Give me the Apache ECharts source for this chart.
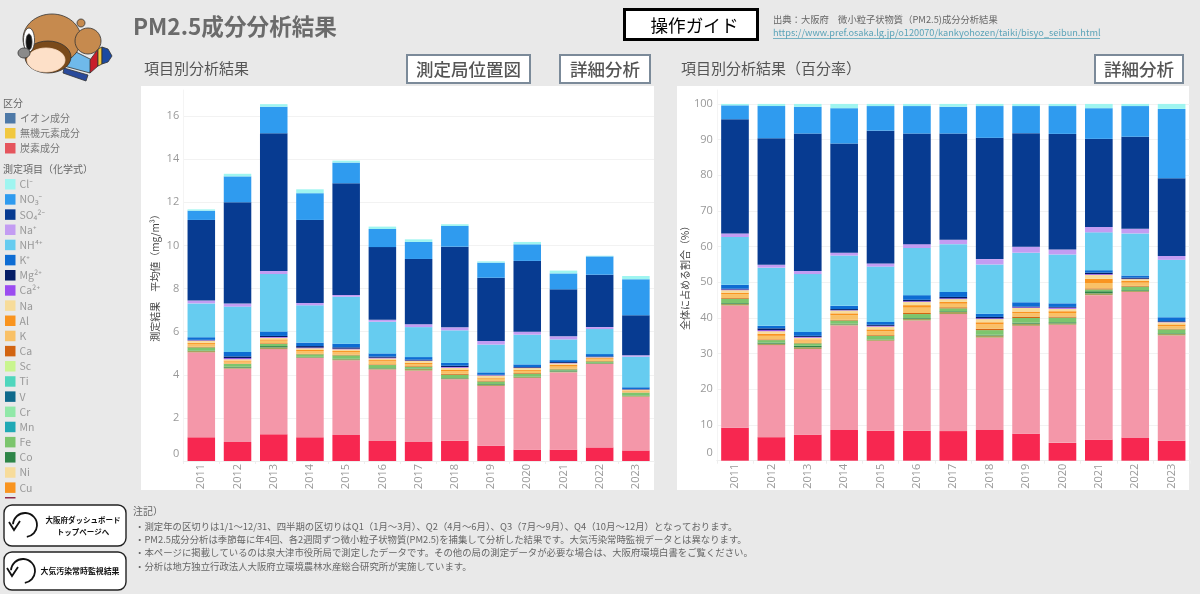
<!DOCTYPE html>
<html lang="ja"><head><meta charset="utf-8">
<style>html,body{margin:0;padding:0;background:#e9e9e9}#c{width:1200px;height:594px}</style>
<script src="https://cdn.jsdelivr.net/npm/echarts@6/dist/echarts.min.js"></script>
</head><body><div id="c"></div>
<script>
const years = ['2011','2012','2013','2014','2015','2016','2017','2018','2019','2020','2021','2022','2023'];
const yTicksAbs = [0,2,4,6,8,10,12,14,16];
// 平均値 (µg/m3)
const ecAbs  = [1.10,.88,1.24,1.10,1.21,.93,.88,.94,.71,.53,.53,.63,.49];
const ocAbs  = [3.94,3.40,3.95,3.68,3.46,3.31,3.31,2.85,2.77,3.32,3.58,3.87,2.49];
const tailAbs= [.06,.05,.08,.03,.05,.05,.08,.04,.06,.04,.04,.03,.04];
const coAbs  = [.02,.04,.06,.02,.02,.02,.02,.02,.03,.02,.05,.02,.02];
const feAbs  = [.15,.13,.10,.12,.16,.14,.08,.15,.12,.14,.05,.07,.13];
const caAbs  = [.03,.02,.03,.02,.03,.03,.03,.04,.04,.03,.03,.02,.01];
const kAbs   = [.13,.09,.12,.13,.12,.14,.10,.13,.09,.10,.10,.08,.05];
const alAbs  = [.05,.05,.06,.05,.05,.06,.06,.07,.05,.05,.08,.05,.04];
const naAbs  = [.10,.06,.08,.08,.08,.08,.08,.09,.09,.08,.07,.04,.04];
const ca2Abs = [.02,.05,.03,.03,.03,.03,.02,.03,.02,.02,.02,.01,.01];
const mgAbs  = [.02,.08,.05,.07,.06,.05,.04,.06,.02,.03,.04,.03,.02];
const kpAbs  = [.12,.21,.21,.16,.17,.15,.12,.13,.11,.12,.09,.11,.08];
const nh4Abs = [1.57,2.10,2.66,1.73,2.18,1.47,1.39,1.51,1.29,1.38,.96,1.16,1.42];
const napAbs = [.13,.14,.14,.11,.08,.09,.13,.14,.17,.14,.14,.09,.06];
const so4Abs = [3.74,4.70,6.39,3.85,5.18,3.37,3.03,3.74,2.93,3.28,2.18,2.43,1.86];
const no3Abs = [.43,1.20,1.23,1.24,.96,.84,.79,.96,.70,.77,.74,.85,1.67];
const clAbs  = [.06,.12,.12,.18,.09,.11,.12,.08,.06,.11,.13,.03,.15];
// 全体に占める割合 (%)
const ecPct  = [9.25,6.6,7.3,8.6,8.4,8.4,8.3,8.6,7.6,5.0,5.9,6.5,5.6];
const ocPct  = [34.25,25.8,24.0,29.3,25.2,30.9,32.8,25.9,30.2,33.1,40.5,40.8,29.5];
const tailPct= [.5,.4,.5,.3,.3,.5,.6,.6,.6,.4,.5,.3,.4];
const coPct  = [.2,.3,.4,.2,.1,.2,.2,.2,.3,.3,.6,.2,.2];
const fePct  = [1.2,.7,.7,.9,1.0,1.1,.8,1.3,1.3,1.3,.5,1.0,1.1];
const caPct  = [.2,.2,.1,.2,.2,.3,.3,.4,.4,.3,.3,.2,.2];
const kPct   = [1.1,1.0,.7,1.3,1.1,1.5,1.0,1.2,.9,1.0,1.5,.9,.7];
const alPct  = [.4,.6,.3,.5,.5,.7,.5,.6,.5,.5,1.2,.5,.5];
const naPct  = [.7,.7,.5,.8,.8,.9,.8,.9,1.0,.7,1.1,.5,.6];
const ca2Pct = [.2,.3,.2,.1,.2,.2,.2,.2,.2,.3,.2,.1,.1];
const mgPct  = [.2,.5,.3,.3,.3,.4,.4,.4,.2,.2,.4,.3,.2];
const kpPct  = [1.1,.7,1.1,.9,.8,1.3,1.4,.9,1.2,1.0,.7,.6,1.1];
const nh4Pct = [13.4,16.3,16.2,14.1,15.5,13.2,13.4,13.8,13.9,13.7,10.6,11.8,16.1];
const napPct = [1.0,.8,.9,.8,.9,1.1,1.25,1.5,1.7,1.4,1.5,1.3,1.1];
const so4Pct = [32,35.5,38.5,30.6,37.2,31.0,29.75,34,31.8,32.4,24.7,25.8,21.8];
const no3Pct = [3.9,9.0,7.5,9.9,6.9,7.7,7.5,8.9,7.6,7.8,8.6,8.6,19.4];
const clPct  = [.4,.6,.8,1.2,.6,.6,.8,.6,.6,.6,1.2,.6,1.4];
const tooThinToRead = [0,0,0,0,0,0,0,0,0,0,0,0,0];
// Legend order (top to bottom)
const legendNames = ['Cl⁻','NO₃⁻','SO₄²⁻','Na⁺','NH⁴⁺','K⁺','Mg²⁺','Ca²⁺','Na','Al','K','Ca','Sc','Ti','V','Cr','Mn','Fe','Co','Ni','Cu'];
const groupNames = ['イオン成分','無機元素成分','炭素成分'];
const groupColors = ['#4e79a7','#f1c83f','#e5555d'];
const notes = ['・測定年の区切りは1/1～12/31、四半期の区切りはQ1（1月～3月）、Q2（4月～6月）、Q3（7月～9月）、Q4（10月～12月）となっております。',
 '・PM2.5成分分析は季節毎に年4回、各2週間ずつ微小粒子状物質(PM2.5)を捕集して分析した結果です。大気汚染常時監視データとは異なります。',
 '・本ページに掲載しているのは泉大津市役所局で測定したデータです。その他の局の測定データが必要な場合は、大阪府環境白書をご覧ください。',
 '・分析は地方独立行政法人大阪府立環境農林水産総合研究所が実施しています。'];

// Stack order, bottom to top: name, colour, absolute, percent
const stackRows = [
 ['EC','#f72750',ecAbs,ecPct],['OC','#f497a9',ocAbs,ocPct],['微量元素','#a9a25c',tailAbs,tailPct],
 ['Cu','#f9941f',tooThinToRead,tooThinToRead],['Ni','#f7dc9b',tooThinToRead,tooThinToRead],
 ['Co','#2e8548',coAbs,coPct],['Fe','#7cc56d',feAbs,fePct],['Mn','#20a9b5',tooThinToRead,tooThinToRead],
 ['Cr','#91e8a8',tooThinToRead,tooThinToRead],['V','#0f6a8c',tooThinToRead,tooThinToRead],
 ['Ti','#4fd6bd',tooThinToRead,tooThinToRead],['Sc','#c9f58f',tooThinToRead,tooThinToRead],
 ['Ca','#d26411',caAbs,caPct],['K','#f9c167',kAbs,kPct],['Al','#f9941f',alAbs,alPct],['Na','#f7dc9b',naAbs,naPct],
 ['Ca²⁺','#9b4cf0',ca2Abs,ca2Pct],['Mg²⁺','#041c66',mgAbs,mgPct],['K⁺','#0d6cd3',kpAbs,kpPct],
 ['NH⁴⁺','#66ccf0',nh4Abs,nh4Pct],['Na⁺','#c39cf2',napAbs,napPct],['SO₄²⁻','#073b91',so4Abs,so4Pct],
 ['NO₃⁻','#2f9bef',no3Abs,no3Pct],['Cl⁻','#9ff5f0',clAbs,clPct]];

const FONT = '"Noto Sans CJK JP","Noto Sans",sans-serif';
const series = [];
stackRows.forEach(r => {
  series.push({name:r[0],type:'bar',stack:'abs',xAxisIndex:0,yAxisIndex:0,barCategoryGap:'24%',itemStyle:{color:r[1]},data:r[2],animation:false});
  series.push({name:r[0],type:'bar',stack:'pct',xAxisIndex:1,yAxisIndex:1,barCategoryGap:'24%',itemStyle:{color:r[1]},data:r[3],animation:false});
});

const txt = (x,y,t,size,fill,extra) => ({type:'text',z:5,style:Object.assign({x,y,text:t,fontSize:size,fill,fontFamily:FONT,textVerticalAlign:'middle',verticalAlign:'middle'},extra||{})});
const box = (x,y,w,h,fill,stroke,lw,r) => ({type:'rect',z:4,shape:{x,y,width:w,height:h,r:r||0},style:{fill,stroke,lineWidth:lw}});
const btn = (x,y,w,h,t) => [box(x,y,w,h,'#fff','#7b8a99',2),txt(x+w/2,y+h/2,t,17.5,'#555',{align:'center',fontWeight:500})];
const arrow = (cx,cy) => [
  {type:'arc',z:5,shape:{cx,cy,r:12,startAngle:3.2,endAngle:7.7,clockwise:true},style:{fill:'none',stroke:'#111',lineWidth:1.8}},
  {type:'polyline',z:5,shape:{points:[[cx-16,cy-3],[cx-11,cy+5],[cx-5,cy-4]]},style:{fill:'none',stroke:'#111',lineWidth:1.8}}];
const poly = (pts,fill,stroke) => ({type:'polygon',z:5,shape:{points:pts},style:{fill,stroke:stroke||'#333',lineWidth:.8}});
const ell = (cx,cy,rx,ry,fill,stroke) => ({type:'ellipse',z:5,shape:{cx,cy,rx,ry},style:{fill,stroke:stroke||'#333',lineWidth:.8}});

const graphics = [
  {type:'rect',z:-10,shape:{x:141,y:86,width:513,height:404},style:{fill:'#fff'}},
  {type:'rect',z:-10,shape:{x:677,y:86,width:512,height:404},style:{fill:'#fff'}},
  // mascot
  poly([[76,52],[92,60],[90,73],[64,66]],'#6fb9ea'),
  poly([[90,60],[98,49],[98,66],[90,73]],'#c81e2b'),
  poly([[98,49],[102,47],[102,64],[98,66]],'#f1c83f'),
  poly([[102,47],[108,49],[112,56],[108,62],[102,64]],'#1c4aa0'),
  poly([[64,68],[88,75],[86,81],[63,73]],'#2a4a9a'),
  ell(81,23,4,4,'#c68a4e'),
  ell(52,39,29,25,'#c68a4e'),
  ell(88,41,13,13,'#c68a4e'),
  ell(48,57,23,16,'#7a4a1a'),
  ell(46,60,19,12,'#fde0c8','#fde0c8'),
  ell(29,40,5.5,12,'#fff'),
  ell(29,42,3,8,'#111'),
  ell(24,53,6,5,'#8a8a8a'),
  // title
  txt(133,26,'PM2.5成分分析結果',22.6,'#6b6b6b',{fontWeight:'bold'}),
  txt(144,68,'項目別分析結果',15,'#555'),
  txt(681,68,'項目別分析結果（百分率）',15,'#555'),
  ...btn(407,55,123,28,'測定局位置図'),
  ...btn(560,55,90,28,'詳細分析'),
  ...btn(1095,55,88,28,'詳細分析'),
  box(624.5,9.5,133,30,'#fff','#000',3),
  txt(694.5,25,'操作ガイド',17.6,'#000',{align:'center'}),
  txt(773,19,'出典：大阪府　微小粒子状物質（PM2.5)成分分析結果',9.3,'#666'),
  txt(773,33,'https://www.pref.osaka.lg.jp/o120070/kankyohozen/taiki/bisyo_seibun.html',9.2,'#5ba3b8'),
  {type:'line',z:5,shape:{x1:773,y1:38.5,x2:1100,y2:38.5},style:{stroke:'#5ba3b8',lineWidth:.8}},
  // left legends
  txt(3,103,'区分',10,'#666'),
  txt(3,169,'測定項目（化学式）',10,'#666'),
  ...groupNames.flatMap((n,i)=>[
    {type:'rect',z:5,shape:{x:5,y:113+15*i,width:10.5,height:10.5},style:{fill:groupColors[i]}},
    txt(20,118.5+15*i,n,10,'#777')]),
  {type:'rect',z:5,shape:{x:5,y:497,width:10.5,height:1.5},style:{fill:'#8e2a4a'}},
  // nav buttons
  box(4,505,122,41,'#fff','#222',1.4,8),
  ...arrow(25,525),
  txt(83,520.5,'大阪府ダッシュボード',7.5,'#111',{align:'center',fontWeight:'bold'}),
  txt(83,532,'トップページへ',7.5,'#111',{align:'center',fontWeight:'bold'}),
  box(4,552,122,38,'#fff','#222',1.4,8),
  ...arrow(23,571),
  txt(80,571,'大気汚染常時監視結果',7.9,'#111',{align:'center',fontWeight:'bold'}),
  txt(133,511,'注記）',10,'#666'),
  ...notes.map((n,i)=>txt(135,526+13.4*i,n,9.4,'#666'))
];

const xAxis = idx => ({type:'category',gridIndex:idx,data:years,
  axisLine:{lineStyle:{color:'#eee'}},axisTick:{show:true,lineStyle:{color:'#eee'},length:3},
  axisLabel:{rotate:90,color:'#999',fontSize:11,margin:3,fontFamily:'"Open Sans",sans-serif',interval:0}});
const yAxis = (idx,max,interval,name) => ({type:'value',gridIndex:idx,min:0,max,interval,name,nameLocation:'middle',nameGap:23,
  nameTextStyle:{color:'#444',fontSize:10,fontFamily:FONT},
  axisLine:{show:true,lineStyle:{color:'#f4f4f4'}},axisTick:{show:false},
  splitLine:{lineStyle:{color:'#f2f2f2'},showMaxLine:false,showMinLine:false},
  axisLabel:{color:'#999',fontSize:11,margin:4,showMaxLabel:false,fontFamily:'"Open Sans",sans-serif',
    formatter:v=>v===0?'{z|0}':String(v),rich:{z:{color:'#999',fontSize:11,padding:[0,0,15,0]}}}});

const chart = echarts.init(document.getElementById('c'));
chart.setOption({
  animation:false,backgroundColor:'#e9e9e9',textStyle:{fontFamily:FONT},
  grid:[{left:183.2,width:470.8,top:90,height:371},{left:716.8,width:473,top:90,height:370.7}],
  legend:{data:legendNames,orient:'vertical',left:5,top:179,itemWidth:10.5,itemHeight:10.5,itemGap:4.67,icon:'rect',selectedMode:false,
    padding:0,textStyle:{color:'#999',fontSize:10.5,lineHeight:10,padding:[0,0,0,-1],fontFamily:FONT}},
  xAxis:[xAxis(0),xAxis(1)],
  yAxis:[yAxis(0,17.206,yTicksAbs[1],'測定結果　平均値（mg/m³）'),yAxis(1,103.9,10,'全体に占める割合（%）')],
  series,graphic:{elements:graphics}
});
</script></body></html>
